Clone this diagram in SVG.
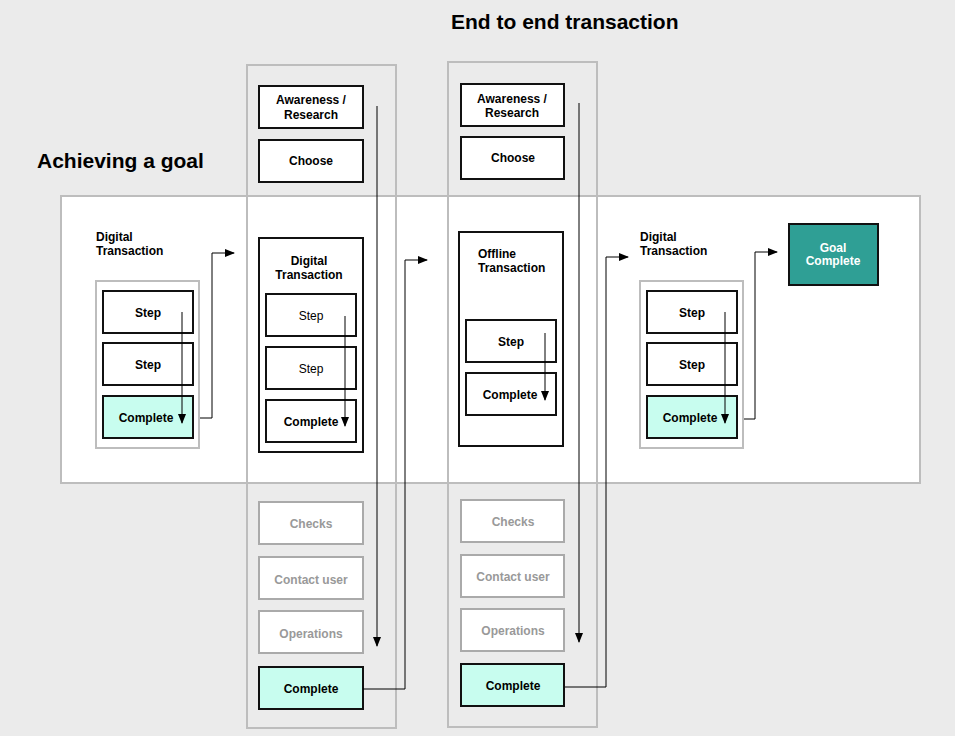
<svg xmlns="http://www.w3.org/2000/svg" width="955" height="736" viewBox="0 0 955 736">
<defs>
<style>
text{font-family:"Liberation Sans",Arial,sans-serif;font-size:12px;font-weight:bold;fill:#000}
.c{text-anchor:middle}
.n{font-weight:normal}
.g{fill:#999}
.w{fill:#fff}
.title{font-size:21px}
.frame{fill:none;stroke:#bdbdbd;stroke-width:2}
.box{fill:#fff;stroke:#111;stroke-width:2}
.mint{fill:#c8fdef;stroke:#111;stroke-width:2}
.gbox{fill:#fff;stroke:#aaa;stroke-width:2}
.teal{fill:#2f9f95;stroke:#111;stroke-width:2}
.ln{fill:none;stroke:#000;stroke-width:1;marker-end:url(#ah)}
</style>
<marker id="ah" markerWidth="10" markerHeight="8" refX="9" refY="4" orient="auto" markerUnits="userSpaceOnUse">
<path d="M0,0 L10,4 L0,8 Z" fill="#000"/>
</marker>
</defs>
<rect width="955" height="736" fill="#ebebeb"/>
<text class="title" x="37" y="168">Achieving a goal</text>
<text class="title" x="451" y="29">End to end transaction</text>
<rect id="band" x="61" y="196" width="859" height="287" fill="#fff" stroke="#bdbdbd" stroke-width="2"/>
<rect id="col1" class="frame" x="247" y="65" width="149" height="663"/>
<rect id="col2" class="frame" x="448" y="62" width="149" height="665"/>

<g id="left-digital">
<text x="96" y="241">Digital</text>
<text x="96" y="255">Transaction</text>
<rect class="frame" x="96" y="281" width="103" height="167"/>
<g id="l-step1"><rect class="box" x="103" y="291" width="90" height="42"/><text class="c" x="148" y="317">Step</text></g>
<g id="l-step2"><rect class="box" x="103" y="343" width="90" height="42"/><text class="c" x="148" y="369">Step</text></g>
<g id="l-complete"><rect class="mint" x="103" y="396" width="90" height="42"/><text class="c" x="146" y="422">Complete</text></g>
</g>

<g id="c1-awareness"><rect class="box" x="259" y="86" width="104" height="42"/><text class="c" x="311" y="104">Awareness /</text><text class="c" x="311" y="119">Research</text></g>
<g id="c1-choose"><rect class="box" x="259" y="140" width="104" height="42"/><text class="c" x="311" y="165">Choose</text></g>
<g id="c1-digital">
<rect class="box" x="259" y="238" width="104" height="214"/>
<text class="c" x="309" y="265">Digital</text>
<text class="c" x="309" y="279">Transaction</text>
<g id="c1-step1"><rect class="box" x="266" y="294" width="90" height="42"/><text class="c n" x="311" y="320">Step</text></g>
<g id="c1-step2"><rect class="box" x="266" y="347" width="90" height="42"/><text class="c n" x="311" y="373">Step</text></g>
<g id="c1-complete-inner"><rect class="box" x="266" y="400" width="90" height="42"/><text class="c" x="311" y="426">Complete</text></g>
</g>
<g id="c1-checks"><rect class="gbox" x="259" y="502" width="104" height="42"/><text class="c g" x="311" y="528">Checks</text></g>
<g id="c1-contact"><rect class="gbox" x="259" y="557" width="104" height="42"/><text class="c g" x="311" y="584">Contact user</text></g>
<g id="c1-operations"><rect class="gbox" x="259" y="611" width="104" height="42"/><text class="c g" x="311" y="638">Operations</text></g>
<g id="c1-complete"><rect class="mint" x="259" y="667" width="104" height="42"/><text class="c" x="311" y="693">Complete</text></g>

<g id="c2-awareness"><rect class="box" x="461" y="84" width="103" height="42"/><text class="c" x="512" y="103">Awareness /</text><text class="c" x="512" y="117">Research</text></g>
<g id="c2-choose"><rect class="box" x="461" y="137" width="103" height="42"/><text class="c" x="513" y="162">Choose</text></g>
<g id="c2-offline">
<rect class="box" x="459" y="232" width="104" height="214"/>
<text x="478" y="258">Offline</text>
<text x="478" y="272">Transaction</text>
<g id="c2-step"><rect class="box" x="466" y="320" width="90" height="42"/><text class="c" x="511" y="346">Step</text></g>
<g id="c2-complete-inner"><rect class="box" x="466" y="373" width="90" height="42"/><text class="c" x="510" y="399">Complete</text></g>
</g>
<g id="c2-checks"><rect class="gbox" x="461" y="500" width="103" height="42"/><text class="c g" x="513" y="526">Checks</text></g>
<g id="c2-contact"><rect class="gbox" x="461" y="555" width="103" height="42"/><text class="c g" x="513" y="581">Contact user</text></g>
<g id="c2-operations"><rect class="gbox" x="461" y="609" width="103" height="42"/><text class="c g" x="513" y="635">Operations</text></g>
<g id="c2-complete"><rect class="mint" x="461" y="664" width="103" height="42"/><text class="c" x="513" y="690">Complete</text></g>

<g id="right-digital">
<text x="640" y="241">Digital</text>
<text x="640" y="255">Transaction</text>
<rect class="frame" x="640" y="281" width="103" height="167"/>
<g id="r-step1"><rect class="box" x="647" y="291" width="90" height="42"/><text class="c" x="692" y="317">Step</text></g>
<g id="r-step2"><rect class="box" x="647" y="343" width="90" height="42"/><text class="c" x="692" y="369">Step</text></g>
<g id="r-complete"><rect class="mint" x="647" y="396" width="90" height="42"/><text class="c" x="690" y="422">Complete</text></g>
</g>
<g id="goal"><rect class="teal" x="789" y="224" width="89" height="61"/><text class="c w" x="833" y="252">Goal</text><text class="c w" x="833" y="265">Complete</text></g>

<g id="connectors">
<path class="ln" d="M182,312 V423"/>
<path class="ln" d="M200,418 H212 V253 H234"/>
<path class="ln" d="M345,316 V426"/>
<path class="ln" d="M377,106 V646"/>
<path class="ln" d="M363,689 H405 V260 H427"/>
<path class="ln" d="M545,333 V400"/>
<path class="ln" d="M579,103 V642"/>
<path class="ln" d="M565,687 H606 V257 H628"/>
<path class="ln" d="M725,312 V423"/>
<path class="ln" d="M744,419 H755 V252 H777"/>
</g>
</svg>
